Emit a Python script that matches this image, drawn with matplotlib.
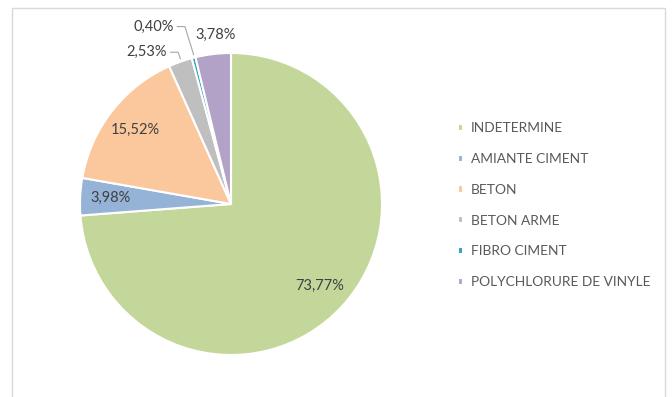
import numpy as np
import matplotlib
matplotlib.use("Agg")
from matplotlib import pyplot as plt
from matplotlib.patches import Rectangle

# data
categories = ["INDETERMINE", "AMIANTE CIMENT", "BETON", "BETON ARME",
              "FIBRO CIMENT", "POLYCHLORURE DE VINYLE"]
shares = [73.77, 3.98, 15.52, 2.53, 0.40, 3.78]
pct_labels = ["73,77%", "3,98%", "15,52%", "2,53%", "0,40%", "3,78%"]

# styles
colors = ["#C4D79B", "#95B3D7", "#FBC79C", "#BFBFBF", "#31A3C0", "#B3A2C7"]
outside = [False, False, False, True, True, True]

plt.rcParams['font.family'] = ['Lato', 'DejaVu Sans']

W, H = 672, 397
fig = plt.figure(figsize=(W / 100, H / 100), dpi=100)

# chart frame
fig.patches.append(Rectangle((12 / W, -0.05), 653 / W, 1 - 8 / H + 0.05,
                             transform=fig.transFigure, fill=False,
                             edgecolor="#D9D9D9", lw=1))

ax = fig.add_axes([0, 0, 1, 1])
cx, cy, R = 231, 204, 151  # pixel centre / radius of the pie
wedges, _ = ax.pie(shares, colors=colors, startangle=90, counterclock=False,
                   radius=1, wedgeprops=dict(edgecolor="white", linewidth=1.5))
ax.set_aspect('auto')
ax.set_xlim(-cx / R, (W - cx) / R)
ax.set_ylim((cy - H) / R, cy / R)
ax.axis('off')

# labels at mid angle of each wedge
for i, w in enumerate(wedges):
    ang = np.deg2rad((w.theta1 + w.theta2) / 2)
    if not outside[i]:
        r = 0.8
        ax.text(r * np.cos(ang), r * np.sin(ang), pct_labels[i], ha="center",
                va="center", fontsize=10.5, color="#404040")

# small slices: labels above the pie with leader lines
ex_pos = {3: (-0.56, 1.005), 4: (-0.515, 1.175), 5: (-0.105, 1.12)}
for i, (tx, ty) in ex_pos.items():
    w = wedges[i]
    ang = np.deg2rad((w.theta1 + w.theta2) / 2)
    ex, ey = np.cos(ang), np.sin(ang)
    ax.text(tx, ty, pct_labels[i], ha="center", va="center", fontsize=10.5,
            color="#404040")
    if i in (3, 4):
        x0 = tx + 0.16
        ax.plot([x0, x0 + 0.05, ex], [ty, ty, ey + 0.02], color="#A6A6A6",
                lw=0.8, solid_joinstyle="miter")

leg = ax.legend(wedges, categories, loc="upper left",
                bbox_to_anchor=(452 / W, 1 - 117 / H), frameon=False,
                fontsize=9.9, handlelength=0.42, handleheight=0.42,
                handletextpad=0.55, labelspacing=1.36, borderaxespad=0)
for t in leg.get_texts():
    t.set_color("#595959")

fig.savefig("out.png", dpi=100)
